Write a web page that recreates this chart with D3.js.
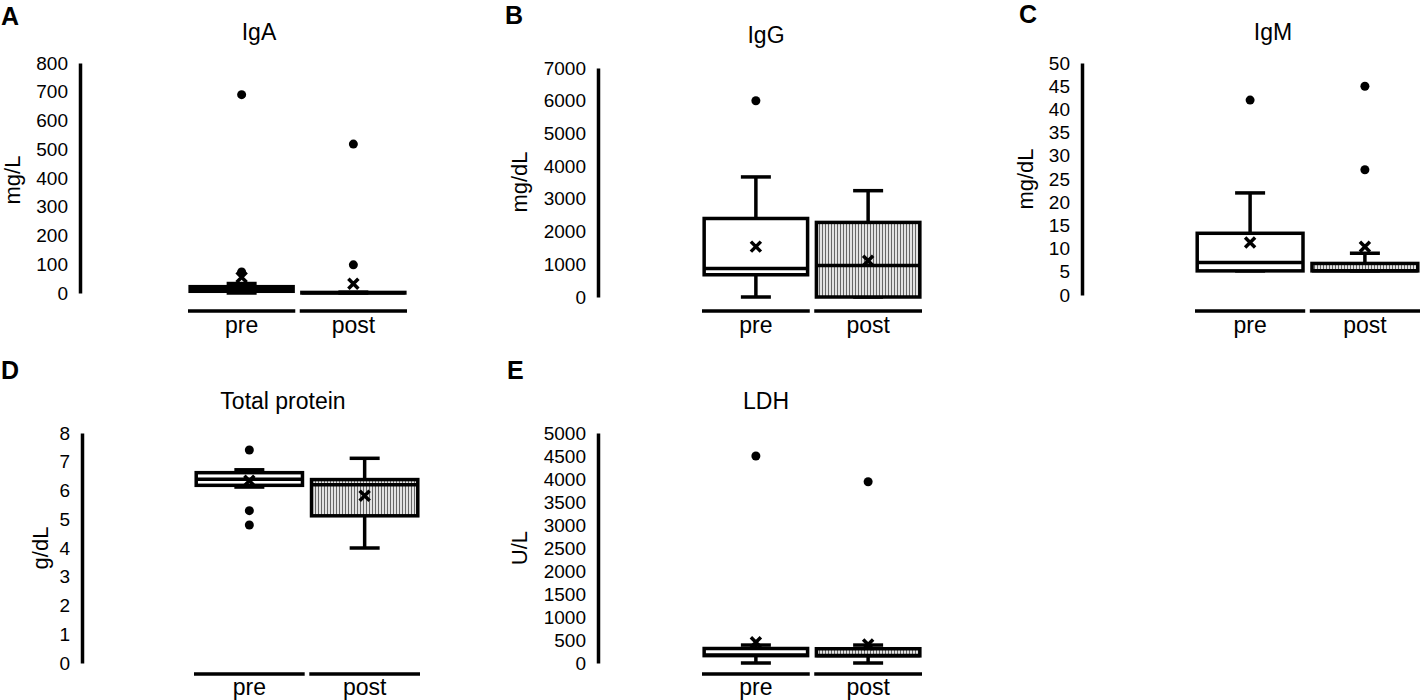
<!DOCTYPE html>
<html>
<head>
<meta charset="utf-8">
<script src="https://cdn.jsdelivr.net/npm/d3@7"></script>
<style>
  body { margin: 0; background: #fff; }
  svg { display: block; font-family: Arial, "Liberation Sans", sans-serif; }
</style>
</head>
<body>
<svg id="chart"></svg>
<script>
const groups = ['pre', 'post'];

// box stats, one entry per group (pre, post)
const igaStats = [
  { min: 0, q1: 6, median: 14, q3: 22, max: 33, mean: 55, outliers: [73, 690] },
  { min: 0, q1: 0, median: 1, q3: 2, max: 3, mean: 32, outliers: [98, 518] }
];
const iggStats = [
  { min: 0, q1: 680, median: 870, q3: 2400, max: 3670, mean: 1540, outliers: [6000] },
  { min: 0, q1: 0, median: 960, q3: 2280, max: 3250, mean: 1110, outliers: [] }
];
const igmStats = [
  { min: 5.2, q1: 5.2, median: 7, q3: 13.3, max: 22, mean: 11.3, outliers: [42] },
  { min: 5.2, q1: 5.2, median: 5.2, q3: 6.8, max: 9, mean: 10.4, outliers: [27, 45] }
];
const proteinStats = [
  { min: 6.12, q1: 6.18, median: 6.39, q3: 6.62, max: 6.72, mean: 6.34, outliers: [4.8, 5.3, 7.41] },
  { min: 4.0, q1: 5.12, median: 6.2, q3: 6.38, max: 7.12, mean: 5.82, outliers: [] }
];
const ldhStats = [
  { min: 0, q1: 160, median: 175, q3: 315, max: 390, mean: 450, outliers: [4500] },
  { min: 0, q1: 155, median: 165, q3: 310, max: 390, mean: 400, outliers: [3940] }
];

const igaTicks = [0, 100, 200, 300, 400, 500, 600, 700, 800];
const iggTicks = [0, 1000, 2000, 3000, 4000, 5000, 6000, 7000];
const igmTicks = [0, 5, 10, 15, 20, 25, 30, 35, 40, 45, 50];
const proteinTicks = [0, 1, 2, 3, 4, 5, 6, 7, 8];
const ldhTicks = [0, 500, 1000, 1500, 2000, 2500, 3000, 3500, 4000, 4500, 5000];

const panels = [
  { letter: 'A', title: 'IgA', unit: 'mg/L', stats: igaStats, ticks: igaTicks,
    letterX: 1, letterY: 25, axisX: 80, y0: 293, y1: 63, titleX: 259, titleY: 40,
    xRange: [188, 407], lineY: 311, labelY: 333, unitX: 20, unitY: 180 },
  { letter: 'B', title: 'IgG', unit: 'mg/dL', stats: iggStats, ticks: iggTicks,
    letterX: 505, letterY: 24, axisX: 598, y0: 297, y1: 68, titleX: 766, titleY: 43,
    xRange: [702, 922], lineY: 311, labelY: 333, unitX: 527, unitY: 182 },
  { letter: 'C', title: 'IgM', unit: 'mg/dL', stats: igmStats, ticks: igmTicks,
    letterX: 1019, letterY: 23, axisX: 1082, y0: 295, y1: 63, titleX: 1273, titleY: 40,
    xRange: [1195, 1420], lineY: 311, labelY: 333, unitX: 1033, unitY: 179 },
  { letter: 'D', title: 'Total protein', unit: 'g/dL', stats: proteinStats, ticks: proteinTicks,
    letterX: 1, letterY: 379, axisX: 82, y0: 663, y1: 433, titleX: 283, titleY: 409,
    xRange: [194, 420], lineY: 674, labelY: 695, unitX: 48, unitY: 548 },
  { letter: 'E', title: 'LDH', unit: 'U/L', stats: ldhStats, ticks: ldhTicks,
    letterX: 507, letterY: 379, axisX: 598, y0: 663, y1: 433, titleX: 766, titleY: 409,
    xRange: [702, 922], lineY: 674, labelY: 695, unitX: 527, unitY: 548 }
];

const width = 1420;
const height = 700;
const stroke = 3.5;

const svg = d3.select('#chart')
  .attr('width', width)
  .attr('height', height);

svg.append('rect')
  .attr('width', width)
  .attr('height', height)
  .attr('fill', '#fff');

// vertical hatching used for the post boxes
const pattern = svg.append('defs').append('pattern')
  .attr('id', 'hatch')
  .attr('patternUnits', 'userSpaceOnUse')
  .attr('width', 3)
  .attr('height', 3);
pattern.append('rect')
  .attr('width', 3)
  .attr('height', 3)
  .attr('fill', '#e2e2e2');
pattern.append('line')
  .attr('x1', 0.5).attr('x2', 0.5)
  .attr('y1', 0).attr('y2', 3)
  .attr('stroke', '#666')
  .attr('stroke-width', 1);

panels.forEach(drawPanel);

function drawPanel(p) {
  const g = svg.append('g');

  const yScale = d3.scaleLinear()
    .domain([0, d3.max(p.ticks)])
    .range([p.y0, p.y1]);

  const xScale = d3.scaleBand()
    .domain(groups)
    .range(p.xRange)
    .paddingInner(0.04);

  // panel letter and title
  g.append('text')
    .attr('x', p.letterX)
    .attr('y', p.letterY)
    .attr('font-size', 25)
    .attr('font-weight', 'bold')
    .text(p.letter);

  g.append('text')
    .attr('x', p.titleX)
    .attr('y', p.titleY)
    .attr('text-anchor', 'middle')
    .attr('font-size', 23)
    .text(p.title);

  // y axis
  const yAxis = d3.axisLeft(yScale)
    .tickValues(p.ticks)
    .tickSize(0)
    .tickPadding(12)
    .tickFormat(d3.format('d'));

  const axisG = g.append('g')
    .attr('transform', `translate(${p.axisX},0)`)
    .call(yAxis)
    .attr('font-family', null)
    .attr('font-size', 19);
  axisG.select('.domain')
    .attr('stroke', '#000')
    .attr('stroke-width', stroke);
  axisG.selectAll('text').attr('fill', '#000');

  g.append('text')
    .attr('transform', `translate(${p.unitX},${p.unitY}) rotate(-90)`)
    .attr('text-anchor', 'middle')
    .attr('font-size', 22)
    .text(p.unit);

  // category axis: one line per group with label below
  g.selectAll('.cat-line')
    .data(groups)
    .enter()
    .append('line')
    .attr('x1', d => xScale(d))
    .attr('x2', d => xScale(d) + xScale.bandwidth())
    .attr('y1', p.lineY)
    .attr('y2', p.lineY)
    .attr('stroke', '#000')
    .attr('stroke-width', stroke);

  g.selectAll('.cat-label')
    .data(groups)
    .enter()
    .append('text')
    .attr('x', d => xScale(d) + xScale.bandwidth() / 2)
    .attr('y', p.labelY)
    .attr('text-anchor', 'middle')
    .attr('font-size', 23)
    .text(d => d);

  const boxW = xScale.bandwidth() * 0.96;
  const capW = 30;

  p.stats.forEach((s, i) => {
    const cx = xScale(groups[i]) + xScale.bandwidth() / 2;
    const box = g.append('g');

    // whisker stem and caps
    box.append('line')
      .attr('x1', cx).attr('x2', cx)
      .attr('y1', yScale(s.min)).attr('y2', yScale(s.max))
      .attr('stroke', '#000')
      .attr('stroke-width', stroke);

    box.selectAll('.cap')
      .data([s.min, s.max])
      .enter()
      .append('line')
      .attr('x1', cx - capW / 2)
      .attr('x2', cx + capW / 2)
      .attr('y1', d => yScale(d))
      .attr('y2', d => yScale(d))
      .attr('stroke', '#000')
      .attr('stroke-width', stroke);

    box.append('rect')
      .attr('x', cx - boxW / 2)
      .attr('y', yScale(s.q3))
      .attr('width', boxW)
      .attr('height', yScale(s.q1) - yScale(s.q3))
      .attr('fill', i === 0 ? '#fff' : 'url(#hatch)')
      .attr('stroke', '#000')
      .attr('stroke-width', stroke);

    box.append('line')
      .attr('x1', cx - boxW / 2)
      .attr('x2', cx + boxW / 2)
      .attr('y1', yScale(s.median))
      .attr('y2', yScale(s.median))
      .attr('stroke', '#000')
      .attr('stroke-width', stroke);

    // mean marker
    box.append('path')
      .attr('transform', `translate(${cx},${yScale(s.mean)})`)
      .attr('d', 'M-5,-5L5,5M-5,5L5,-5')
      .attr('stroke', '#000')
      .attr('stroke-width', stroke)
      .attr('fill', 'none');

    box.selectAll('.outlier')
      .data(s.outliers)
      .enter()
      .append('circle')
      .attr('cx', cx)
      .attr('cy', d => yScale(d))
      .attr('r', 4.5)
      .attr('fill', '#000');
  });
}
</script>
</body>
</html>
